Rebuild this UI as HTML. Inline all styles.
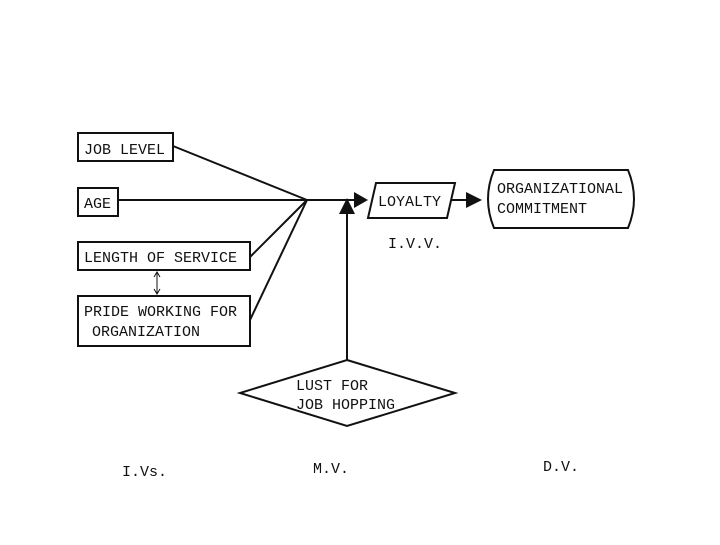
<!DOCTYPE html><html><head><style>body{margin:0;background:#fff}svg text{font-family:"Liberation Mono",monospace;font-size:15px;fill:#111}</style></head><body>
<svg width="720" height="540" viewBox="0 0 720 540" xmlns="http://www.w3.org/2000/svg">
<g fill="none" stroke="#111" stroke-width="2">
<rect x="78" y="133" width="95" height="28"/>
<rect x="78" y="188" width="40" height="28"/>
<rect x="78" y="242" width="172" height="28"/>
<rect x="78" y="296" width="172" height="50"/>
<line x1="173" y1="146" x2="307" y2="200"/>
<line x1="118" y1="200" x2="355" y2="200"/>
<line x1="250" y1="257" x2="307" y2="200"/>
<line x1="250" y1="320" x2="307" y2="200"/>
<line x1="347" y1="361" x2="347" y2="212"/>
<line x1="157" y1="273" x2="157" y2="293" stroke-width="1"/>
<polyline points="154,277 157,272 160,277" stroke-width="1"/>
<polyline points="154,289 157,294 160,289" stroke-width="1"/>
<polygon points="376,183 455,183 447,218 368,218"/>
<line x1="451" y1="200" x2="468" y2="200"/>
<path d="M494,170 L628,170 Q640,199 628,228 L494,228 Q482,199 494,170 Z"/>
<polygon points="347,360 455,393 347,426 240,393"/>
</g>
<polygon points="354,192 368,200 354,208" fill="#111"/>
<polygon points="339,214 347,198 355,214" fill="#111"/>
<polygon points="466,192 482,200 466,208" fill="#111"/>
<text x="84" y="154">JOB LEVEL</text>
<text x="84" y="208">AGE</text>
<text x="84" y="262">LENGTH OF SERVICE</text>
<text x="84" y="316">PRIDE WORKING FOR</text>
<text x="92" y="336">ORGANIZATION</text>
<text x="378" y="206">LOYALTY</text>
<text x="497" y="193">ORGANIZATIONAL</text>
<text x="497" y="213">COMMITMENT</text>
<text x="388" y="248">I.V.V.</text>
<text x="296" y="390">LUST FOR</text>
<text x="296" y="409">JOB HOPPING</text>
<text x="122" y="476">I.Vs.</text>
<text x="313" y="473">M.V.</text>
<text x="543" y="471">D.V.</text>
</svg></body></html>
